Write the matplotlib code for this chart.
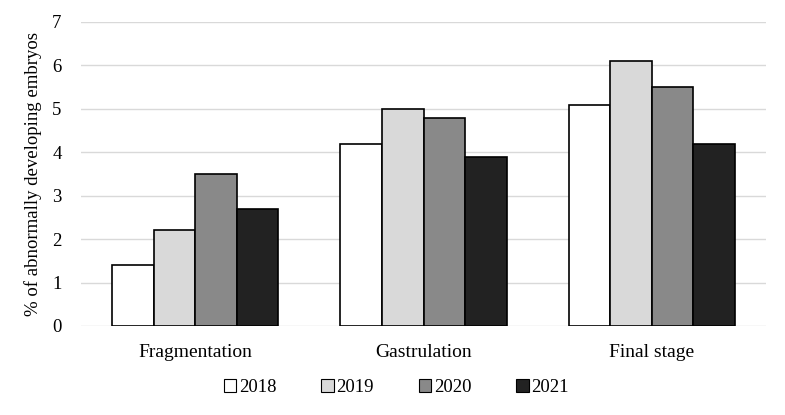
import matplotlib
matplotlib.use("Agg")
import matplotlib.pyplot as plt
import numpy as np
from matplotlib.patches import Patch

categories = ["Fragmentation", "Gastrulation", "Final stage"]
years = ["2018", "2019", "2020", "2021"]
values = {
    "2018": [1.4, 4.2, 5.1],
    "2019": [2.2, 5.0, 6.1],
    "2020": [3.5, 4.8, 5.5],
    "2021": [2.7, 3.9, 4.2],
}
colors = ["#ffffff", "#d9d9d9", "#898989", "#222222"]

plt.rcParams['font.family'] = ['Liberation Serif', 'DejaVu Serif']

fig = plt.figure(figsize=(7.85, 4.15), dpi=100)
ax = fig.add_axes([0.1032, 0.2145, 0.8726, 0.7325])

x = np.arange(len(categories))
bw = 0.182
for i, y in enumerate(years):
    ax.bar(x + (i - 1.5) * bw, values[y], width=bw, color=colors[i],
           edgecolor="black", linewidth=1.2, zorder=3)

ax.set_xlim(-0.5, 2.5)
ax.set_ylim(0, 7)
ax.set_yticks(range(0, 8))
ax.set_xticks(x)
ax.set_xticklabels(categories, fontsize=14)
ax.tick_params(axis='y', labelsize=13.5, length=0, pad=14)
ax.tick_params(axis='x', length=0, pad=13)
ax.yaxis.grid(True, color="#d9d9d9", linewidth=1, zorder=0)
for s in ax.spines.values():
    s.set_visible(False)
ax.set_ylabel("% of abnormally developing embryos", fontsize=13.5, labelpad=7)

handles = [Patch(facecolor=c, edgecolor="black", linewidth=0.8) for c in colors]
fig.legend(handles, years, loc="center", bbox_to_anchor=(0.505, 0.066), ncol=4,
           frameon=False, fontsize=13.5, handlelength=0.65, handleheight=0.65,
           handletextpad=0.15, columnspacing=2.4)

fig.savefig("out.png", dpi=100)
